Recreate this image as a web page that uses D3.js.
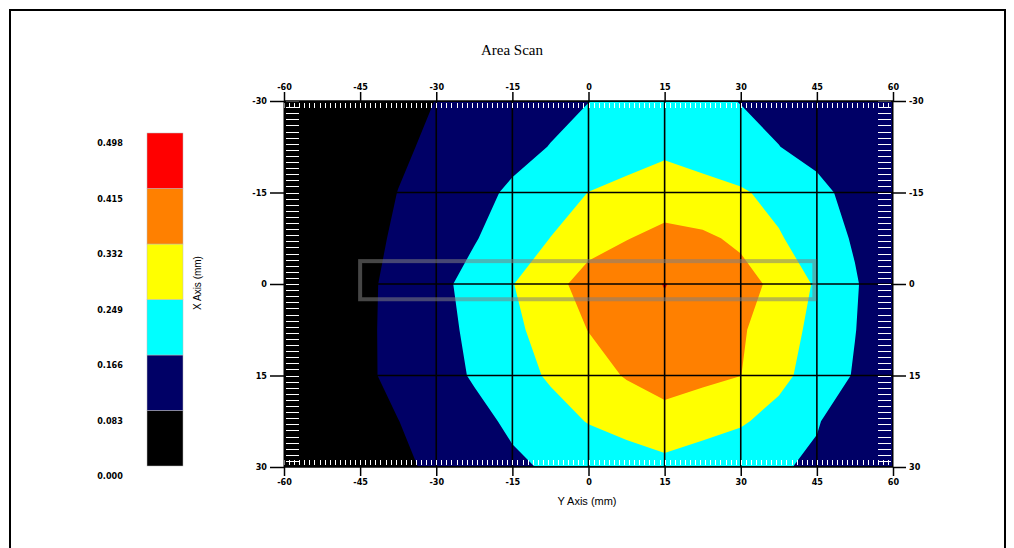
<!DOCTYPE html>
<html><head><meta charset="utf-8">
<script src="https://cdn.jsdelivr.net/npm/d3@7"></script>
<style>
html,body{margin:0;padding:0;background:#fff;}
svg{display:block;}
text{font-family:"Liberation Sans",Arial,sans-serif;}
</style></head>
<body>
<svg id="chart" width="1014" height="548"></svg>
<script>
// ---------- data ----------
const title = "Area Scan";
const xLabel = "Y Axis (mm)";
const yLabel = "X Axis (mm)";
const xTicks = [-60, -45, -30, -15, 0, 15, 30, 45, 60];
const yTicks = [-30, -15, 0, 15, 30];
const legendTicks = [0.000, 0.083, 0.166, 0.249, 0.332, 0.415, 0.498];
const bandColors = ["#000000", "#000066", "#00ffff", "#ffff00", "#ff8000", "#ff0000"];
// measurement grid (node positions)
const gridX = [-60, -52.5, -45, -37.5, -30, -22.5, -15, -7.5, 0, 7.5, 15, 22.5, 30, 37.5, 45, 52.5, 60];
const gridY = [-30, -22.5, -15, -7.5, 0, 7.5, 15, 22.5, 30];
// values at grid nodes, one row per gridY
const row_m30  = [0.020, 0.035, 0.050, 0.065, 0.084, 0.104, 0.125, 0.145, 0.165, 0.183, 0.200, 0.182, 0.164, 0.146, 0.128, 0.110, 0.092];
const row_m225 = [0.020, 0.035, 0.055, 0.072, 0.096, 0.120, 0.144, 0.168, 0.191, 0.213, 0.232, 0.212, 0.189, 0.167, 0.144, 0.122, 0.100];
const row_m15  = [0.020, 0.035, 0.053, 0.084, 0.114, 0.145, 0.177, 0.214, 0.250, 0.270, 0.290, 0.275, 0.258, 0.225, 0.184, 0.144, 0.104];
const row_m75  = [0.020, 0.038, 0.059, 0.093, 0.127, 0.161, 0.205, 0.250, 0.305, 0.329, 0.354, 0.345, 0.318, 0.256, 0.207, 0.158, 0.109];
const row_0    = [0.028, 0.045, 0.064, 0.104, 0.145, 0.192, 0.246, 0.308, 0.360, 0.389, 0.417, 0.389, 0.360, 0.312, 0.238, 0.173, 0.108];
const row_75   = [0.030, 0.047, 0.066, 0.104, 0.141, 0.182, 0.231, 0.283, 0.334, 0.367, 0.400, 0.371, 0.341, 0.288, 0.226, 0.168, 0.109];
const row_15   = [0.030, 0.048, 0.067, 0.102, 0.137, 0.173, 0.216, 0.259, 0.299, 0.338, 0.370, 0.351, 0.333, 0.271, 0.214, 0.160, 0.107];
const row_225  = [0.020, 0.035, 0.051, 0.082, 0.114, 0.145, 0.179, 0.217, 0.253, 0.276, 0.299, 0.278, 0.258, 0.221, 0.171, 0.125, 0.095];
const row_30   = [0.020, 0.035, 0.050, 0.068, 0.097, 0.125, 0.153, 0.175, 0.193, 0.210, 0.227, 0.209, 0.191, 0.173, 0.154, 0.136, 0.118];
// highlighted scan region [x0, x1, y0, y1]
const scanRegion = [-45, 44.5, -3.75, 2.5];

// ---------- drawing ----------
const svg = d3.select("#chart");

// outer frame
svg.append("rect").attr("x", 10).attr("y", 10).attr("width", 995).attr("height", 560)
  .attr("fill", "none").attr("stroke", "#000").attr("stroke-width", 2);

const x = d3.scaleLinear().domain([-60, 60]).range([284, 893]);
const y = d3.scaleLinear().domain([-30, 30]).range([101, 467]);

svg.append("text").attr("x", 512).attr("y", 55).attr("text-anchor", "middle")
  .style("font-family", "'Liberation Serif','Times New Roman',serif").style("font-size", "15px")
  .text(title);

const defs = svg.append("defs");
defs.append("clipPath").attr("id", "plotclip").append("rect")
  .attr("x", x(-60)).attr("y", y(-30)).attr("width", x(60) - x(-60)).attr("height", y(30) - y(-30));

const plot = svg.append("g").attr("clip-path", "url(#plotclip)");
plot.append("rect").attr("x", x(-60)).attr("y", y(-30)).attr("width", x(60) - x(-60)).attr("height", y(30) - y(-30))
  .attr("fill", bandColors[0]);

const values = [].concat(row_m30, row_m225, row_m15, row_m75, row_0, row_75, row_15, row_225, row_30);
const nx = gridX.length, ny = gridY.length;
const stepX = gridX[1] - gridX[0], stepY = gridY[1] - gridY[0];
const contours = d3.contours().size([nx, ny]).thresholds(legendTicks.slice(1, 6))(values);
const proj = d3.geoTransform({
  point: function(px, py) {
    this.stream.point(x(gridX[0] + (px - 0.5) * stepX), y(gridY[0] + (py - 0.5) * stepY));
  }
});
const path = d3.geoPath(proj);
plot.selectAll("path.band").data(contours).join("path").attr("class", "band")
  .attr("d", path).attr("fill", (d, i) => bandColors[i + 1]).attr("stroke", "none");

// grid lines
plot.selectAll("line.gx").data(xTicks).join("line").attr("class", "gx")
  .attr("x1", d => x(d)).attr("x2", d => x(d)).attr("y1", y(-30)).attr("y2", y(30))
  .attr("stroke", "#000").attr("stroke-width", 1.6);
plot.selectAll("line.gy").data(yTicks).join("line").attr("class", "gy")
  .attr("x1", x(-60)).attr("x2", x(60)).attr("y1", d => y(d)).attr("y2", d => y(d))
  .attr("stroke", "#000").attr("stroke-width", 1.6);

// minor white ticks inside edges
const minorX = d3.range(-60, 61, 1);
const minorY = d3.range(-30, 31, 1);
const mt = svg.append("g").attr("stroke", "#fff").attr("stroke-width", 1).attr("shape-rendering", "crispEdges");
mt.selectAll("line.mtt").data(minorX).join("line").attr("class", "mtt")
  .attr("x1", d => Math.round(x(d)) + 0.5).attr("x2", d => Math.round(x(d)) + 0.5).attr("y1", y(-30) + 2).attr("y2", y(-30) + 7);
mt.selectAll("line.mtb").data(minorX).join("line").attr("class", "mtb")
  .attr("x1", d => Math.round(x(d)) + 0.5).attr("x2", d => Math.round(x(d)) + 0.5).attr("y1", y(30) - 7).attr("y2", y(30) - 2);
mt.selectAll("line.mtl").data(minorY).join("line").attr("class", "mtl")
  .attr("y1", d => Math.round(y(d)) + 0.5).attr("y2", d => Math.round(y(d)) + 0.5).attr("x1", x(-60) + 2).attr("x2", x(-60) + 15);
mt.selectAll("line.mtr").data(minorY).join("line").attr("class", "mtr")
  .attr("y1", d => Math.round(y(d)) + 0.5).attr("y2", d => Math.round(y(d)) + 0.5).attr("x1", x(60) - 15).attr("x2", x(60) - 2);

// plot border lines
svg.append("line").attr("x1", x(-60)).attr("x2", x(60)).attr("y1", y(-30)).attr("y2", y(-30)).attr("stroke", "#000").attr("stroke-width", 1.5);
svg.append("line").attr("x1", x(-60)).attr("x2", x(60)).attr("y1", y(30)).attr("y2", y(30)).attr("stroke", "#000").attr("stroke-width", 1.5);
svg.append("line").attr("x1", x(-60)).attr("x2", x(-60)).attr("y1", y(-30)).attr("y2", y(30)).attr("stroke", "#000").attr("stroke-width", 1);
svg.append("line").attr("x1", x(60)).attr("x2", x(60)).attr("y1", y(-30)).attr("y2", y(30)).attr("stroke", "#000").attr("stroke-width", 1);

// axes
const fmt = d => String(d);
const axStyle = g => {
  g.select(".domain").remove();
  g.selectAll(".tick line").attr("stroke", "#000").attr("stroke-width", 1.5);
  g.selectAll(".tick text").style("font-size", "9px").style("font-weight", "bold").attr("fill", "#000")
    .style("font-family", "'DejaVu Sans Condensed','Liberation Sans',sans-serif");
};
svg.append("g").attr("transform", `translate(0,${y(-30)})`)
  .call(d3.axisTop(x).tickValues(xTicks).tickFormat(fmt).tickSize(9).tickPadding(2)).call(axStyle);
svg.append("g").attr("transform", `translate(0,${y(30)})`)
  .call(d3.axisBottom(x).tickValues(xTicks).tickFormat(fmt).tickSize(9).tickPadding(3)).call(axStyle);
svg.append("g").attr("transform", `translate(${x(-60)},0)`)
  .call(d3.axisLeft(y).tickValues(yTicks).tickFormat(fmt).tickSize(14).tickPadding(3)).call(axStyle);
svg.append("g").attr("transform", `translate(${x(60)},0)`)
  .call(d3.axisRight(y).tickValues(yTicks).tickFormat(fmt).tickSize(13).tickPadding(3)).call(axStyle);

// scan region rectangle
svg.append("rect")
  .attr("x", x(scanRegion[0])).attr("y", y(scanRegion[2]))
  .attr("width", x(scanRegion[1]) - x(scanRegion[0])).attr("height", y(scanRegion[3]) - y(scanRegion[2]))
  .attr("fill", "none").attr("stroke", "rgba(128,128,128,0.55)").attr("stroke-width", 4);

svg.append("text").attr("x", 587).attr("y", 505).attr("text-anchor", "middle")
  .style("font-size", "11px").text(xLabel);

// legend
const ly = d3.scaleLinear().domain([0, 0.498]).range([466, 133]);
const lg = svg.append("g");
lg.selectAll("rect").data(d3.range(6)).join("rect")
  .attr("x", 147).attr("width", 36)
  .attr("y", i => ly(legendTicks[i + 1])).attr("height", i => ly(legendTicks[i]) - ly(legendTicks[i + 1]))
  .attr("fill", i => bandColors[i]).attr("stroke", "#bbb").attr("stroke-width", 0.5);
lg.selectAll("text").data(legendTicks).join("text")
  .attr("x", 110).attr("y", d => ly(d) + 10).attr("dy", "0.35em").attr("text-anchor", "middle")
  .style("font-size", "9px").style("font-weight", "bold")
  .style("font-family", "'DejaVu Sans Condensed','Liberation Sans',sans-serif")
  .text(d => d.toFixed(3));
svg.append("text").attr("transform", "translate(201,283) rotate(-90)").attr("text-anchor", "middle")
  .style("font-size", "10px").text(yLabel);
</script>
</body></html>
